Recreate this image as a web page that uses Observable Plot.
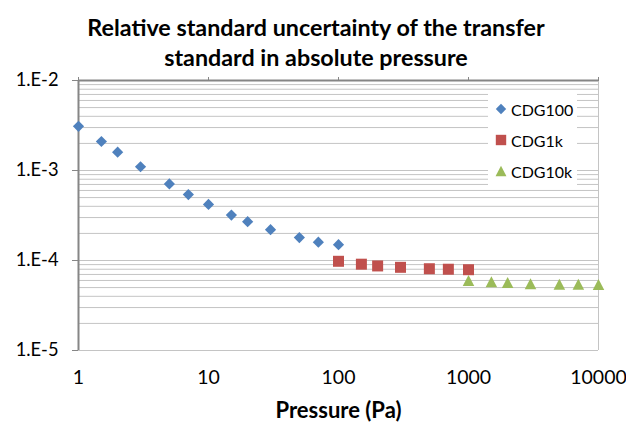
<!DOCTYPE html>
<html>
<head>
<meta charset="utf-8">
<script src="https://cdn.jsdelivr.net/npm/d3@7"></script>
<script src="https://cdn.jsdelivr.net/npm/@observablehq/plot@0.6"></script>
<style>
  html, body { margin: 0; padding: 0; background: #fff; }
  #wrap { position: relative; width: 626px; height: 422px; font-family: "Lato", sans-serif; }
  #title { position: absolute; left: 0; top: 0; width: 632px; text-align: center; font-weight: bold; font-size: 23.3px; line-height: 30px; padding-top: 12px; color: #000; }
  #chart { position: absolute; left: 0; top: 76px; }
  #legend { position: absolute; left: 488px; top: 92px; width: 89px; height: 93px; background: #fff; font-size: 16px; }
  .row { position: absolute; left: 0; height: 20px; display: flex; align-items: center; }
  .row svg { margin-left: 7px; margin-right: 4px; }
  g[aria-label="y-axis tick"], g[aria-label="x-axis tick"] { stroke: #868686; }
</style>
</head>
<body>
<div id="wrap">
  <div id="title">Relative standard uncertainty of the transfer<br>standard in absolute pressure</div>
  <div id="chart"></div>
  <div id="legend"></div>
</div>
<script>
// ---- data ----
const seriesNames = ["CDG100", "CDG1k", "CDG10k"];
const seriesColors = ["#4F81BD", "#C0504D", "#9BBB59"];

const pCDG100 = [1, 1.5, 2, 3, 5, 7, 10, 15, 20, 30, 50, 70, 100];
const uCDG100 = [3.1e-3, 2.1e-3, 1.6e-3, 1.1e-3, 7.1e-4, 5.4e-4, 4.2e-4, 3.2e-4, 2.7e-4, 2.2e-4, 1.8e-4, 1.6e-4, 1.5e-4];

const pCDG1k = [100, 150, 200, 300, 500, 700, 1000];
const uCDG1k = [9.8e-5, 9.1e-5, 8.7e-5, 8.4e-5, 8.1e-5, 8.0e-5, 7.9e-5];

const pCDG10k = [1000, 1500, 2000, 3000, 5000, 7000, 10000];
const uCDG10k = [6.0e-5, 5.8e-5, 5.7e-5, 5.5e-5, 5.45e-5, 5.45e-5, 5.4e-5];

const xTicks = [1, 10, 100, 1000, 10000];
const xTickLabels = ["1", "10", "100", "1000", "10000"];
const yTicks = [1e-5, 1e-4, 1e-3, 1e-2];
const yTickLabels = ["1.E-5", "1.E-4", "1.E-3", "1.E-2"];
const xTitle = "Pressure (Pa)";

// ---- symbols ----
const diamond = { draw(ctx, size) { const r = Math.sqrt(size / Math.PI); ctx.moveTo(0, -r); ctx.lineTo(r, 0); ctx.lineTo(0, r); ctx.lineTo(-r, 0); ctx.closePath(); } };
const square = { draw(ctx, size) { const r = Math.sqrt(size / Math.PI); ctx.rect(-r, -r, 2 * r, 2 * r); } };
const triangle = { draw(ctx, size) { const r = Math.sqrt(size / Math.PI); ctx.moveTo(0, -r); ctx.lineTo(r * 1.05, r); ctx.lineTo(-r * 1.05, r); ctx.closePath(); } };
const symbols = [diamond, square, triangle];

const toRows = (ps, us) => ps.map((p, i) => ({ p, u: us[i] }));
const d100 = toRows(pCDG100, uCDG100);
const d1k = toRows(pCDG1k, uCDG1k);
const d10k = toRows(pCDG10k, uCDG10k);

// minor grid values 1..9 x 10^k
const gridVals = [];
for (let k = -5; k <= -3; k++) for (let m = 1; m <= 9; m++) gridVals.push(+(m * Math.pow(10, k)).toPrecision(3));
gridVals.push(1e-2);

const fmtX = d => xTickLabels[xTicks.indexOf(d)];
const fmtY = d => yTickLabels[yTicks.findIndex(t => Math.abs(t - d) / t < 1e-6)];

const chart = Plot.plot({
  width: 626,
  height: 346,
  marginLeft: 78,
  marginRight: 28,
  marginTop: 4,
  marginBottom: 72,
  style: { fontFamily: "Lato, sans-serif", color: "#000", overflow: "visible" },
  x: { type: "log", domain: [1, 10000] },
  y: { type: "log", domain: [1e-5, 1e-2] },
  marks: [
    Plot.ruleY(gridVals, { stroke: "#c4c4c4", strokeWidth: 1 }),
    Plot.ruleX([10000], { stroke: "#c4c4c4", strokeWidth: 1 }),
    Plot.ruleX([1], { stroke: "#868686", strokeWidth: 2 }),
    Plot.ruleY([1e-2], { stroke: "#868686", strokeWidth: 2 }),
    Plot.axisY({ ticks: yTicks, tickFormat: fmtY, tickSize: 6, tickPadding: 14, fontSize: 18.3, label: null }),
    Plot.axisX({ anchor: "top", ticks: xTicks, tickFormat: () => "", tickSize: 4, label: null }),
    Plot.axisX({ anchor: "bottom", ticks: xTicks, tickFormat: fmtX, tickSize: 0, tickPadding: 20, fontSize: 19.5, label: null }),
    Plot.text([xTitle], { frameAnchor: "bottom", dy: 60, text: d => d, fontWeight: "bold", fontSize: 22, lineAnchor: "middle" }),
    Plot.dot(d100, { x: "p", y: "u", symbol: symbols[0], r: 5.6, fill: seriesColors[0], stroke: "none" }),
    Plot.dot(d1k, { x: "p", y: "u", symbol: symbols[1], r: 5.5, fill: seriesColors[1], stroke: "none" }),
    Plot.dot(d10k, { x: "p", y: "u", symbol: symbols[2], r: 5.5, fill: seriesColors[2], stroke: "none" })
  ]
});
document.getElementById("chart").appendChild(chart);

// ---- legend ----
const legend = document.getElementById("legend");
const rowTops = [7, 38, 69];
seriesNames.forEach((name, i) => {
  const row = document.createElement("div");
  row.className = "row";
  row.style.top = rowTops[i] + "px";
  const svg = d3.create("svg").attr("width", 12).attr("height", 12);
  const path = d3.path();
  symbols[i].draw(path, Math.PI * 5.2 * 5.2);
  svg.append("path").attr("transform", "translate(6,6)").attr("d", path.toString()).attr("fill", seriesColors[i]);
  row.appendChild(svg.node());
  const span = document.createElement("span");
  span.textContent = name;
  row.appendChild(span);
  legend.appendChild(row);
});
</script>
</body>
</html>
